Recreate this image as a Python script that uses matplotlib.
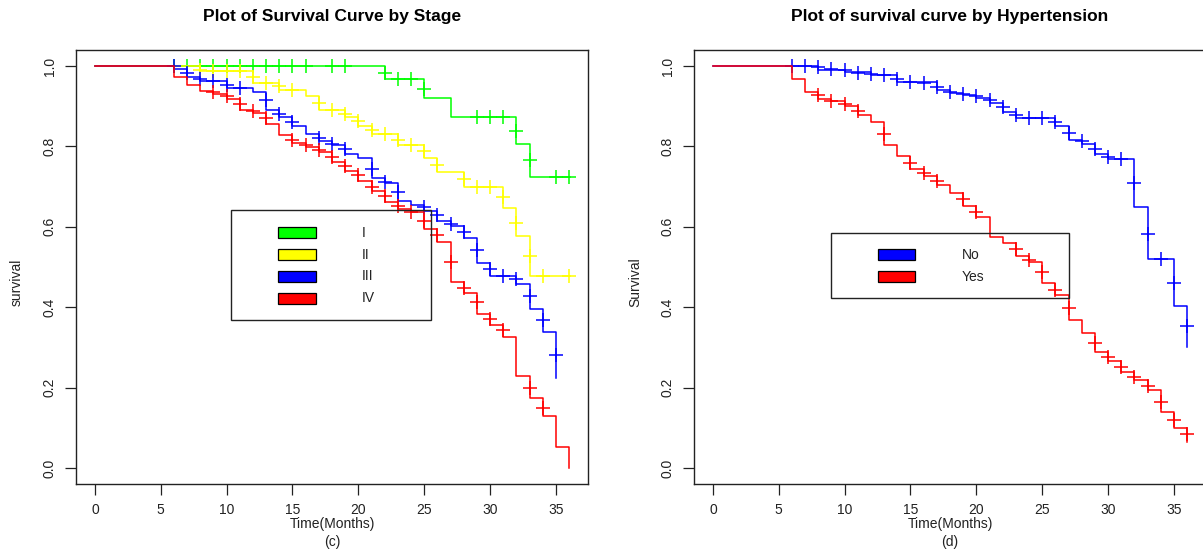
import matplotlib
matplotlib.use("Agg")
import matplotlib.pyplot as plt
from matplotlib.patches import Rectangle

plt.rcParams['font.family'] = ['Liberation Sans', 'DejaVu Sans']

# ---- left panel: survival by stage ----
stage_labels = ['I', 'II', 'III', 'IV']
stage_colors = ['#00ff00', '#ffff00', '#0000ff', '#ff0000']

s1_t = [0, 22, 25, 27, 32, 33, 36.1]
s1_s = [1.0, 0.967, 0.921, 0.873, 0.807, 0.724, 0.724]
s1_ct = [6, 7, 8, 9, 10, 11, 12, 13, 14, 15, 16, 18, 19, 22, 23, 24, 25, 29, 30, 31, 32, 33, 35, 36]
s1_cs = [1.0] * 13 + [0.983, 0.967, 0.967, 0.944, 0.873, 0.873, 0.873, 0.839, 0.766, 0.724, 0.724]

s2_t = [0, 8, 12, 14, 16, 17, 19, 20, 21, 23, 25, 26, 28, 31, 32, 33, 36.1]
s2_s = [1.0, 0.987, 0.957, 0.94, 0.925, 0.891, 0.873, 0.852, 0.831, 0.804, 0.771,
        0.736, 0.698, 0.648, 0.578, 0.478, 0.478]
s2_ct = [8, 9, 10, 11, 12, 13, 14, 15, 17, 18, 19, 20, 21, 22, 23, 24, 25, 26, 28, 29,
         30, 31, 32, 33, 34, 36]
s2_cs = [0.99, 0.987, 0.987, 0.987, 0.972, 0.957, 0.95, 0.94, 0.909, 0.891, 0.881, 0.863,
         0.841, 0.831, 0.817, 0.804, 0.789, 0.754, 0.719, 0.698, 0.698, 0.673, 0.61, 0.528,
         0.478, 0.478]

s3_t = [0, 6, 7, 8, 10, 12, 13, 14, 15, 16, 17, 18, 19, 20, 21, 22, 23, 24, 25, 26, 27,
        28, 29, 30, 32, 33, 34, 35]
s3_s = [1.0, 0.992, 0.973, 0.963, 0.946, 0.936, 0.891, 0.873, 0.852, 0.831, 0.814, 0.803,
        0.782, 0.772, 0.722, 0.708, 0.665, 0.655, 0.64, 0.615, 0.602, 0.571, 0.511, 0.478,
        0.457, 0.396, 0.339, 0.225]
s3_ct = [6, 7, 8, 9, 10, 11, 13, 14, 15, 17, 18, 19, 21, 22, 23, 25, 26, 27, 28, 29, 30,
         31, 32, 33, 34, 35]
s3_cs = [1.0, 0.982, 0.969, 0.963, 0.954, 0.946, 0.915, 0.881, 0.862, 0.822, 0.806, 0.793,
         0.745, 0.712, 0.686, 0.649, 0.63, 0.608, 0.588, 0.542, 0.494, 0.478, 0.469, 0.428,
         0.369, 0.282]

s4_t = [0, 6, 7, 8, 9, 10, 11, 12, 13, 14, 15, 16, 17, 18, 19, 20, 21, 22, 23, 24, 25,
        26, 27, 28, 29, 30, 31, 32, 33, 34, 35, 36]
s4_s = [1.0, 0.973, 0.952, 0.938, 0.931, 0.919, 0.891, 0.883, 0.856, 0.828, 0.808, 0.799,
        0.785, 0.762, 0.74, 0.715, 0.69, 0.662, 0.645, 0.637, 0.595, 0.562, 0.462, 0.436,
        0.384, 0.355, 0.326, 0.229, 0.173, 0.13, 0.052, 0.0]
s4_ct = [9, 10, 11, 12, 13, 15, 16, 17, 18, 19, 20, 21, 22, 23, 24, 25, 26, 27, 28, 29,
         30, 31, 33, 34]
s4_cs = [0.936, 0.925, 0.905, 0.888, 0.87, 0.817, 0.804, 0.792, 0.774, 0.751, 0.728, 0.7,
         0.676, 0.653, 0.638, 0.615, 0.58, 0.512, 0.448, 0.412, 0.371, 0.342, 0.2, 0.15]

# ---- right panel: survival by hypertension ----
htn_labels = ['No', 'Yes']
htn_colors = ['#0000ff', '#ff0000']

no_t = [0, 8, 10, 12, 14, 17, 18, 19, 20, 21, 22, 23, 26, 27, 28, 29, 30, 32, 33, 35, 36]
no_s = [1.0, 0.99, 0.986, 0.977, 0.961, 0.941, 0.934, 0.929, 0.921, 0.909, 0.885, 0.87,
        0.852, 0.817, 0.806, 0.781, 0.768, 0.649, 0.519, 0.404, 0.302]
no_ct = [6, 7, 8, 9, 10, 11, 12, 13, 14, 15, 16, 17, 18, 19, 20, 21, 22, 23, 24, 25, 26,
         27, 28, 29, 30, 31, 32, 33, 34, 35, 36]
no_cs = [1.0, 1.0, 0.997, 0.992, 0.99, 0.984, 0.98, 0.977, 0.969, 0.961, 0.958, 0.948,
         0.936, 0.931, 0.925, 0.916, 0.898, 0.879, 0.87, 0.87, 0.862, 0.833, 0.813, 0.793,
         0.774, 0.768, 0.708, 0.583, 0.519, 0.46, 0.353]

yes_t = [0, 6, 7, 8, 9, 10, 11, 12, 13, 14, 15, 16, 17, 18, 19, 20, 21, 22, 23, 24, 25,
         26, 27, 28, 29, 30, 31, 32, 33, 34, 35, 36]
yes_s = [1.0, 0.969, 0.936, 0.919, 0.914, 0.9, 0.879, 0.862, 0.804, 0.776, 0.745, 0.726,
         0.705, 0.684, 0.652, 0.624, 0.574, 0.559, 0.527, 0.512, 0.46, 0.43, 0.369, 0.337,
         0.289, 0.265, 0.239, 0.219, 0.193, 0.14, 0.1, 0.065]
yes_ct = [8, 9, 10, 11, 13, 15, 16, 17, 19, 20, 23, 24, 25, 26, 27, 29, 30, 31, 32, 33,
          34, 35, 36]
yes_cs = [0.929, 0.913, 0.905, 0.888, 0.831, 0.76, 0.735, 0.715, 0.668, 0.638, 0.544,
          0.518, 0.487, 0.443, 0.398, 0.312, 0.276, 0.251, 0.226, 0.204, 0.165, 0.119, 0.084]

x_ticks = [0, 5, 10, 15, 20, 25, 30, 35]
y_ticks = [0.0, 0.2, 0.4, 0.6, 0.8, 1.0]

W, H = 1203, 554
fig = plt.figure(figsize=(W / 100, H / 100), dpi=100)
ax1 = fig.add_axes([76 / W, 70 / H, 512 / W, 434 / H])
ax2 = fig.add_axes([694 / W, 70 / H, 512 / W, 434 / H])


def style_axis(ax):
    ax.set_xlim(-1.44, 37.44)
    ax.set_ylim(-0.04, 1.04)
    ax.set_xticks(x_ticks)
    ax.set_xticklabels([str(v) for v in x_ticks])
    ax.set_yticks(y_ticks)
    ax.set_yticklabels(['%.1f' % v for v in y_ticks], rotation=90, va='center')
    ax.tick_params(direction='out', length=8, width=0.9, labelsize=10, pad=6,
                   colors='#222222')
    for sp in ax.spines.values():
        sp.set_linewidth(1.0)
        sp.set_color('#222222')


def km(ax, t, s, ct, cs, color):
    ax.step(t, s, where='post', color=color, lw=1.1, zorder=3)
    ax.plot(ct, cs, ls='none', marker='+', ms=10, mew=1.1, color=color, zorder=3)


km(ax1, s1_t, s1_s, s1_ct, s1_cs, stage_colors[0])
km(ax1, s2_t, s2_s, s2_ct, s2_cs, stage_colors[1])
km(ax1, s3_t, s3_s, s3_ct, s3_cs, stage_colors[2])
km(ax1, s4_t, s4_s, s4_ct, s4_cs, stage_colors[3])
style_axis(ax1)

km(ax2, no_t, no_s, no_ct, no_cs, htn_colors[0])
km(ax2, yes_t, yes_s, yes_ct, yes_cs, htn_colors[1])
style_axis(ax2)

# legends drawn like R's legend(fill=...), no background
ax1.add_patch(Rectangle((0.303, 0.378), 0.39, 0.253, transform=ax1.transAxes,
                        facecolor='none', edgecolor='#222222', lw=1.0, zorder=5))
for i, (lab, col) in enumerate(zip(stage_labels, stage_colors)):
    yc = 0.579 - i * 0.0503
    ax1.add_patch(Rectangle((0.395, yc - 0.0125), 0.074, 0.025, transform=ax1.transAxes,
                            facecolor=col, edgecolor='black', lw=0.9, zorder=6))
    ax1.text(0.558, yc, lab, transform=ax1.transAxes, va='center', ha='left',
             fontsize=10, color='#222222', zorder=7)

ax2.add_patch(Rectangle((0.268, 0.428), 0.465, 0.151, transform=ax2.transAxes,
                        facecolor='none', edgecolor='#222222', lw=1.0, zorder=5))
for i, (lab, col) in enumerate(zip(htn_labels, htn_colors)):
    yc = 0.528 - i * 0.0503
    ax2.add_patch(Rectangle((0.359, yc - 0.0125), 0.072, 0.025, transform=ax2.transAxes,
                            facecolor=col, edgecolor='black', lw=0.9, zorder=6))
    ax2.text(0.523, yc, lab, transform=ax2.transAxes, va='center', ha='left',
             fontsize=10, color='#222222', zorder=7)

# titles and labels
fig.text(332 / W, 1 - 17 / H, 'Plot of Survival Curve by Stage', ha='center', va='center',
         fontsize=12.5, fontweight='bold')
fig.text(950 / W, 1 - 17 / H, 'Plot of survival curve by Hypertension', ha='center',
         va='center', fontsize=12.5, fontweight='bold')
fig.text(17 / W, 1 - 282 / H, 'survival', rotation=90, ha='center', va='center',
         fontsize=10, color='#222222')
fig.text(635 / W, 1 - 282 / H, 'Survival', rotation=90, ha='center', va='center',
         fontsize=10, color='#222222')
fig.text(332 / W, 1 - 524 / H, 'Time(Months)', ha='center', va='center', fontsize=10,
         color='#222222')
fig.text(332 / W, 1 - 542 / H, '(c)', ha='center', va='center', fontsize=10,
         color='#222222')
fig.text(950 / W, 1 - 524 / H, 'Time(Months)', ha='center', va='center', fontsize=10,
         color='#222222')
fig.text(950 / W, 1 - 542 / H, '(d)', ha='center', va='center', fontsize=10,
         color='#222222')

fig.savefig('out.png', dpi=100)
